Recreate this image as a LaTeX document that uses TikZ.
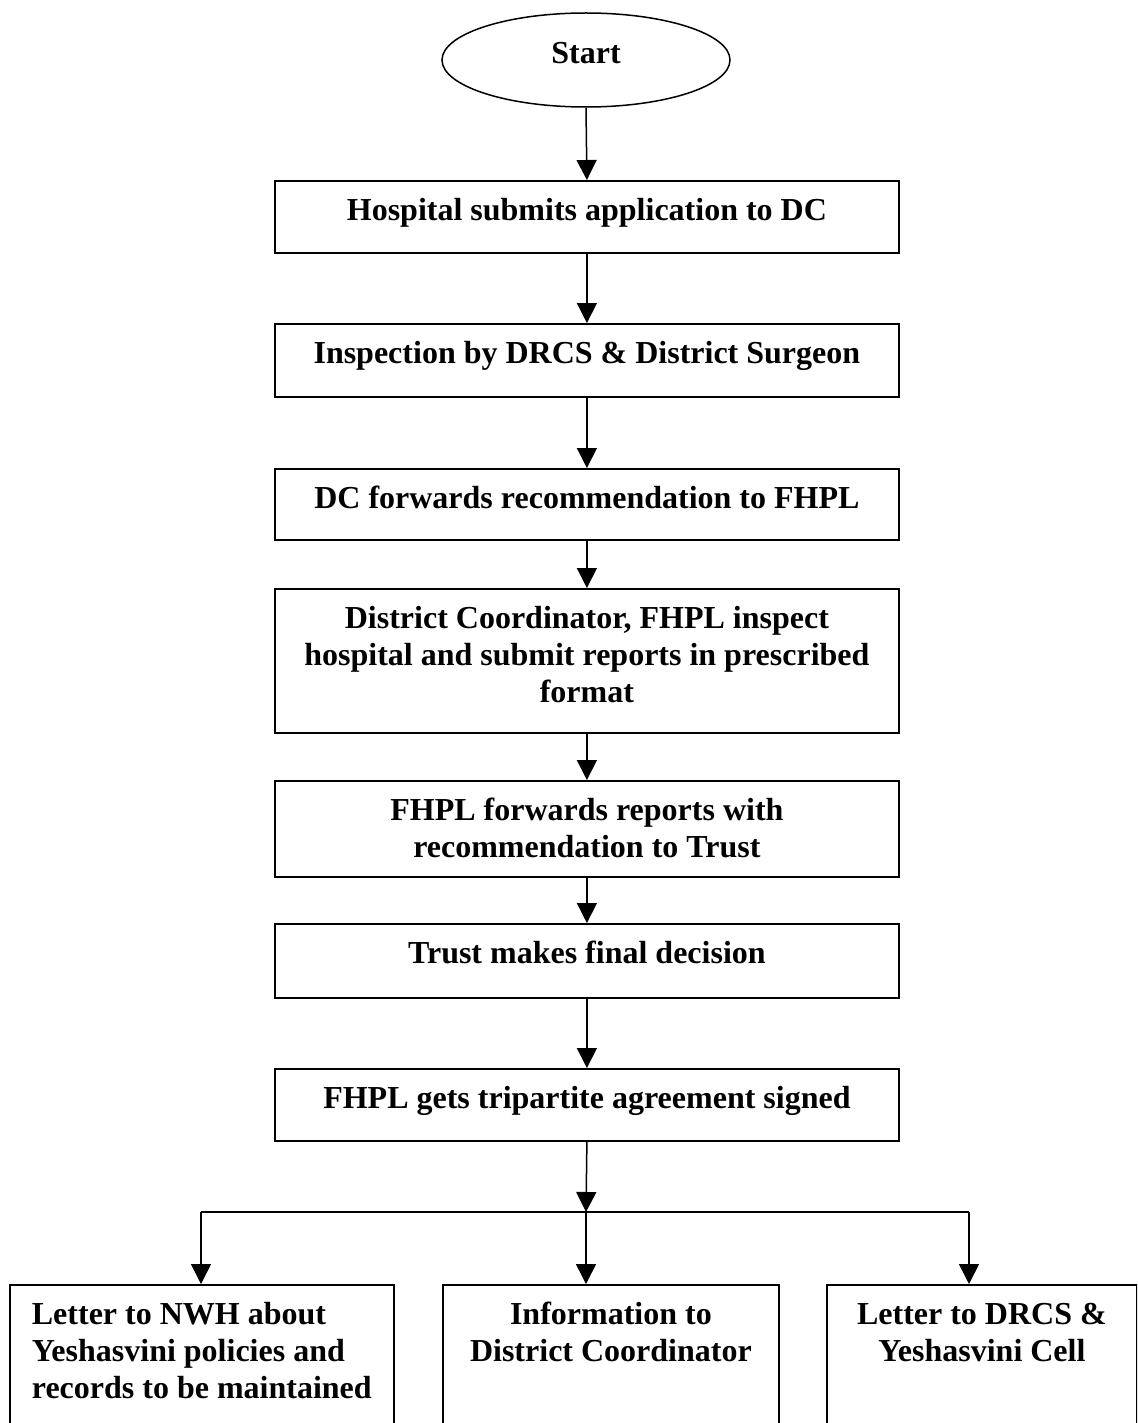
\documentclass[tikz,border=0pt]{standalone}
\usepackage{fontspec}
\setmainfont{Liberation Serif}
\usetikzlibrary{arrows.meta,shapes.geometric}
\newcommand\flowtext[4]{\parbox[t][#2][t]{#1}{#3\rule{0pt}{20pt}#4}}
\begin{document}
\begin{tikzpicture}[x=0.5pt,y=-0.5pt,
  every node/.style={font=\fontsize{16pt}{18.4pt}\selectfont\bfseries},
  stepbox/.style={draw, line width=0.9pt, inner sep=0pt, anchor=north west},
  startnode/.style={draw, ellipse, line width=0.75pt, minimum width=144pt, minimum height=47pt, inner sep=0pt, text height=10.6pt, text depth=7pt},
  arr/.style={line width=0.75pt, -{Triangle[length=10pt,width=10pt]}},
  link/.style={line width=0.75pt}]
\clip (0,0) rectangle (1137,1423);
\node[startnode] (start) at (586,60) {Start};
\node[stepbox] (b1) at (274,180) {\flowtext{312pt}{36pt}{\centering}{Hospital submits application to DC}};
\node[stepbox] (b2) at (274,323) {\flowtext{312pt}{36.5pt}{\centering}{Inspection by DRCS \& District Surgeon}};
\node[stepbox] (b3) at (274,468) {\flowtext{312pt}{35.5pt}{\centering}{DC forwards recommendation to FHPL}};
\node[stepbox] (b4) at (274,588) {\flowtext{312pt}{72pt}{\centering}{District Coordinator, FHPL inspect\\hospital and submit reports in prescribed\\format}};
\node[stepbox] (b5) at (274,780) {\flowtext{312pt}{48pt}{\centering}{FHPL forwards reports with\\recommendation to Trust}};
\node[stepbox] (b6) at (274,923) {\flowtext{312pt}{37pt}{\centering}{Trust makes final decision}};
\node[stepbox] (b7) at (274,1068) {\flowtext{312pt}{36pt}{\centering}{FHPL gets tripartite agreement signed}};
\node[stepbox] (lb) at (9,1284) {\flowtext{192pt}{80pt}{\raggedright\leftskip=11pt}{Letter to NWH about\\Yeshasvini policies and\\records to be maintained}};
\node[stepbox] (mb) at (442,1284) {\flowtext{168pt}{80pt}{\centering}{Information to\\District Coordinator}};
\node[stepbox] (rb) at (826,1284) {\flowtext{155pt}{80pt}{\centering}{Letter to DRCS \&\\Yeshasvini Cell}};
\coordinate (jl) at (201,1212);
\coordinate (jm) at (586,1212);
\coordinate (jr) at (969,1212);
\draw[arr] (start.south) -- (b1.north);
\draw[arr] (b1.south) -- (b2.north);
\draw[arr] (b2.south) -- (b3.north);
\draw[arr] (b3.south) -- (b4.north);
\draw[arr] (b4.south) -- (b5.north);
\draw[arr] (b5.south) -- (b6.north);
\draw[arr] (b6.south) -- (b7.north);
\draw[arr] (b7.south) -- (jm);
\draw[link] (jl) -- (jr);
\draw[arr] (jl) -- (jl |- lb.north);
\draw[arr] (jm) -- (jm |- mb.north);
\draw[arr] (jr) -- (jr |- rb.north);
\end{tikzpicture}
\end{document}
